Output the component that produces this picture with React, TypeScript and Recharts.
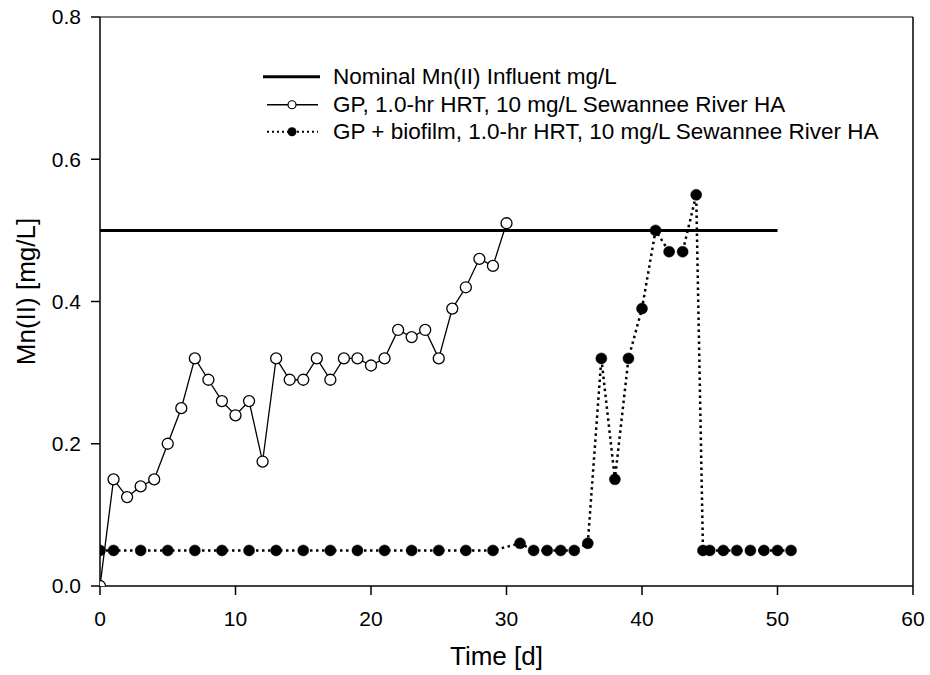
import React from 'react';
import { LineChart, Line, XAxis, YAxis, Legend, Label, ReferenceLine } from 'recharts';

const FONT = '"Liberation Sans", Arial, Helvetica, sans-serif';

const gpDays = [0, 1, 2, 3, 4, 5, 6, 7, 8, 9, 10, 11, 12, 13, 14, 15, 16, 17, 18, 19, 20, 21, 22, 23, 24, 25, 26, 27, 28, 29, 30];
const gpValues = [0, 0.15, 0.125, 0.14, 0.15, 0.2, 0.25, 0.32, 0.29, 0.26, 0.24, 0.26, 0.175, 0.32, 0.29, 0.29, 0.32, 0.29, 0.32, 0.32, 0.31, 0.32, 0.36, 0.35, 0.36, 0.32, 0.39, 0.42, 0.46, 0.45, 0.51];

const bioDays = [0, 1, 3, 5, 7, 9, 11, 13, 15, 17, 19, 21, 23, 25, 27, 29, 31, 32, 33, 34, 35, 36, 37, 38, 39, 40, 41, 42, 43, 44, 44.5, 45, 46, 47, 48, 49, 50, 51];
const bioValues = [0.05, 0.05, 0.05, 0.05, 0.05, 0.05, 0.05, 0.05, 0.05, 0.05, 0.05, 0.05, 0.05, 0.05, 0.05, 0.05, 0.06, 0.05, 0.05, 0.05, 0.05, 0.06, 0.32, 0.15, 0.32, 0.39, 0.5, 0.47, 0.47, 0.55, 0.05, 0.05, 0.05, 0.05, 0.05, 0.05, 0.05, 0.05];

const nominalDays = [0, 50];
const nominalValues = [0.5, 0.5];

const xTicks = [0, 10, 20, 30, 40, 50, 60];
const yTicks = [0, 0.2, 0.4, 0.6, 0.8];
const xMax = 60;
const yMax = 0.8;

const legendLabels = [
  'Nominal Mn(II) Influent mg/L',
  'GP, 1.0-hr HRT, 10 mg/L Sewannee River HA',
  'GP + biofilm, 1.0-hr HRT, 10 mg/L Sewannee River HA',
];
const xTitle = 'Time [d]';
const yTitle = 'Mn(II) [mg/L]';

const zip = (xs: number[], ys: number[]) => xs.map((x, i) => ({ x, y: ys[i] }));
const gpData = zip(gpDays, gpValues);
const bioData = zip(bioDays, bioValues);
const nominalData = zip(nominalDays, nominalValues);

const ROW = 27.5;
const renderLegend = () => (
  <div style={{ fontFamily: FONT, fontSize: 22.5, color: '#000' }}>
    {legendLabels.map((label, i) => (
      <div key={i} style={{ display: 'flex', alignItems: 'center', height: ROW }}>
        <svg width={70} height={ROW} style={{ display: 'block', flex: 'none' }}>
          {i === 0 && <line x1={0} x2={57} y1={ROW / 2} y2={ROW / 2} stroke="#000" strokeWidth={3} />}
          {i === 1 && (
            <>
              <line x1={4} x2={55} y1={ROW / 2} y2={ROW / 2} stroke="#000" strokeWidth={1.3} />
              <circle cx={29} cy={ROW / 2} r={4} fill="#fff" stroke="#000" strokeWidth={1.2} />
            </>
          )}
          {i === 2 && (
            <>
              <line x1={4} x2={55} y1={ROW / 2} y2={ROW / 2} stroke="#000" strokeWidth={2} strokeDasharray="2 3" />
              <circle cx={29} cy={ROW / 2} r={4.5} fill="#000" />
            </>
          )}
        </svg>
        <span style={{ whiteSpace: 'nowrap', lineHeight: `${ROW}px` }}>{label}</span>
      </div>
    ))}
  </div>
);

const XTitle = (props: any) => {
  const vb = props.viewBox;
  return (
    <text x={vb.x + vb.width / 2 - 10} y={vb.y + 79} textAnchor="middle" fontFamily={FONT} fontSize={26} fill="#000">
      {xTitle}
    </text>
  );
};

const YTitle = (props: any) => {
  const vb = props.viewBox;
  const cx = 35;
  const cy = vb.y + vb.height / 2 - 10;
  return (
    <text x={cx} y={cy} transform={`rotate(-90, ${cx}, ${cy})`} textAnchor="middle" fontFamily={FONT} fontSize={26} fill="#000">
      {yTitle}
    </text>
  );
};

export default function App() {
  return (
    <div style={{ position: 'absolute', left: 0, top: 0, width: 930, height: 675, background: '#fff' }}>
      <LineChart width={930} height={675} margin={{ top: 17, right: 17, left: 0, bottom: 0 }} style={{ fontFamily: FONT }}>
        <XAxis
          dataKey="x"
          type="number"
          domain={[0, xMax]}
          ticks={xTicks}
          height={89}
          tickSize={9}
          tickMargin={16}
          stroke="#000"
          strokeWidth={1.5}
          tick={{ fill: '#000', fontSize: 21, fontFamily: FONT }}
          allowDataOverflow
        >
          <Label content={<XTitle />} />
        </XAxis>
        <YAxis
          type="number"
          domain={[0, yMax]}
          ticks={yTicks}
          width={100}
          tickSize={9}
          tickMargin={10}
          stroke="#000"
          strokeWidth={1.5}
          tickFormatter={(v: number) => v.toFixed(1)}
          tick={{ fill: '#000', fontSize: 21, fontFamily: FONT }}
          allowDataOverflow
        >
          <Label content={<YTitle />} />
        </YAxis>
        <ReferenceLine y={yMax} stroke="#000" strokeWidth={1.2} />
        <ReferenceLine x={xMax} stroke="#000" strokeWidth={1.5} />
        <Legend layout="horizontal" verticalAlign="middle" align="center" content={renderLegend} wrapperStyle={{ position: 'absolute', left: 263, top: 63, width: 'auto', height: 'auto' }} />
        <Line data={nominalData} dataKey="y" stroke="#000" strokeWidth={3} dot={false} activeDot={false} isAnimationActive={false} />
        <Line
          data={gpData}
          dataKey="y"
          stroke="#000"
          strokeWidth={1.3}
          dot={{ r: 5.5, fill: '#fff', stroke: '#000', strokeWidth: 1.3 }}
          activeDot={false}
          isAnimationActive={false}
        />
        <Line
          data={bioData}
          dataKey="y"
          stroke="#000"
          strokeWidth={2.5}
          strokeDasharray="2.5 3.5"
          dot={{ r: 5.5, fill: '#000', stroke: '#000', strokeWidth: 0.5, strokeDasharray: 'none' }}
          activeDot={false}
          isAnimationActive={false}
        />
      </LineChart>
    </div>
  );
}
